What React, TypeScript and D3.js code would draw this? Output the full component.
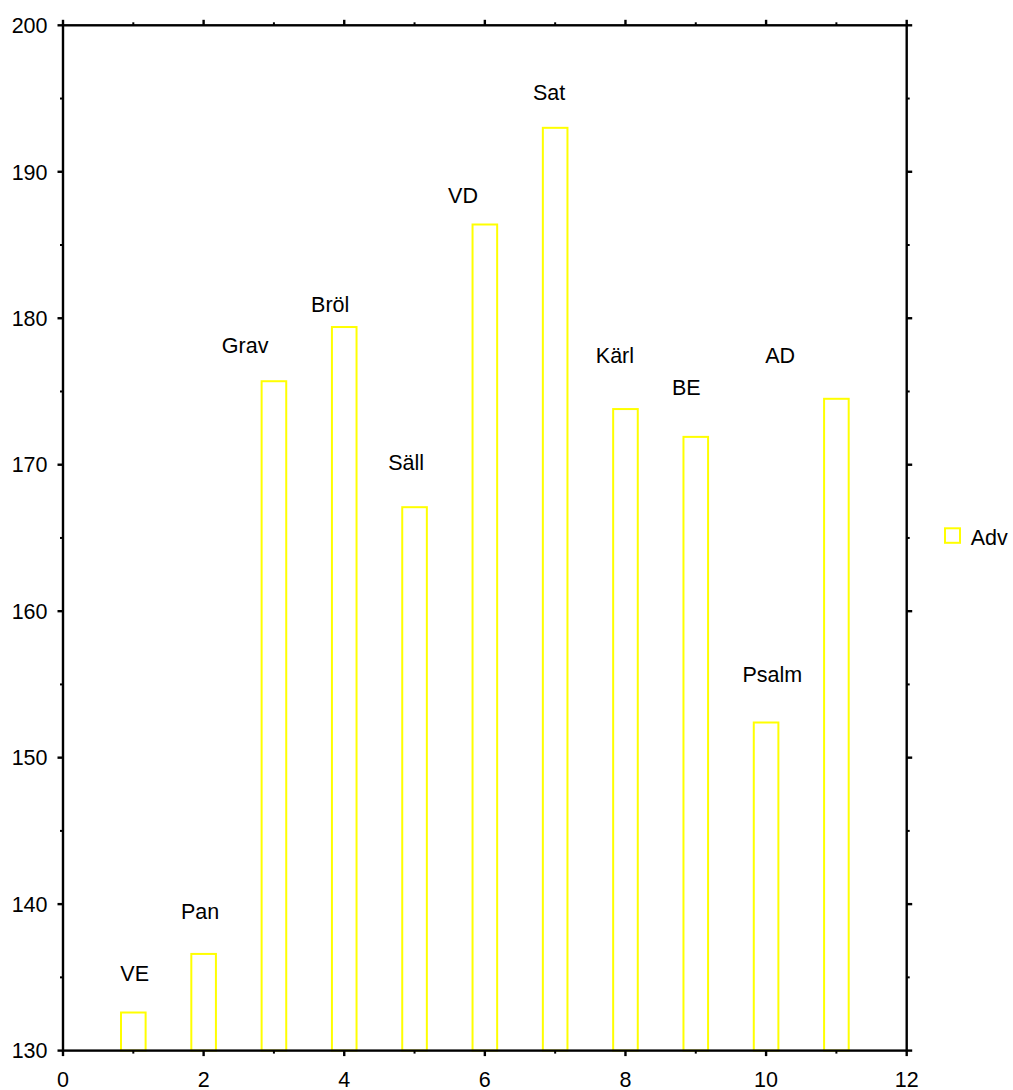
import React from "react";
import * as d3 from "d3";

const categories = ["VE", "Pan", "Grav", "Bröl", "Säll", "VD", "Sat", "Kärl", "BE", "Psalm", "AD"];
const xPositions = [1, 2, 3, 4, 5, 6, 7, 8, 9, 10, 11];
const advValues = [132.6, 136.6, 175.7, 179.4, 167.1, 186.4, 193.0, 173.8, 171.9, 152.4, 174.5];
// label anchor points (data coordinates) as they appear in the chart
const labelX = [1.02, 1.95, 2.59, 3.8, 4.88, 5.69, 6.915, 7.85, 8.865, 10.09, 10.2];
const labelY = [134.77, 138.96, 177.66, 180.4, 169.65, 187.87, 194.88, 176.94, 174.77, 155.19, 176.94];
const xTicks = [0, 2, 4, 6, 8, 10, 12];
const xMinorTicks = [1, 3, 5, 7, 9, 11];
const yTicks = [130, 140, 150, 160, 170, 180, 190, 200];
const yMinorTicks = [135, 145, 155, 165, 175, 185, 195];
const seriesName = "Adv";

const W = 1013;
const H = 1090;
const M = { left: 63, right: 906.7, top: 25.3, bottom: 1050.6 };
const FONT = "'Liberation Sans', Arial, Helvetica, sans-serif";
const FS = 21.5;
const YELLOW = "#ffff00";

export default function App() {
  const x = d3.scaleLinear().domain([0, 12]).range([M.left, M.right]);
  const y = d3.scaleLinear().domain([130, 200]).range([M.bottom, M.top]);
  const barW = x(0.35) - x(0);
  const axisW = 2.4;
  const majorLen = 5.5;
  const minorLen = 3;

  return (
    <svg
      width={W}
      height={H}
      style={{ position: "absolute", left: 0, top: 0, background: "#fff" }}
      fontFamily={FONT}
    >
      <rect x={0} y={0} width={W} height={H} fill="#fff" />
      {/* bars */}
      {xPositions.map((xv, i) => (
        <rect
          key={"b" + i}
          x={x(xv) - barW / 2}
          y={y(advValues[i])}
          width={barW}
          height={y(130) - y(advValues[i])}
          fill="none"
          stroke={YELLOW}
          strokeWidth={2}
        />
      ))}
      {/* frame */}
      <rect
        x={M.left}
        y={M.top}
        width={M.right - M.left}
        height={M.bottom - M.top}
        fill="none"
        stroke="#000"
        strokeWidth={axisW}
      />
      {/* x ticks bottom & top */}
      {xTicks.map((t) => (
        <g key={"xt" + t}>
          <line x1={x(t)} x2={x(t)} y1={M.bottom} y2={M.bottom + majorLen} stroke="#000" strokeWidth={axisW} />
          <line x1={x(t)} x2={x(t)} y1={M.top} y2={M.top - majorLen} stroke="#000" strokeWidth={axisW} />
          <text x={x(t)} y={1086.5} textAnchor="middle" fontSize={FS} fill="#000">
            {t}
          </text>
        </g>
      ))}
      {xMinorTicks.map((t) => (
        <g key={"xm" + t}>
          <line x1={x(t)} x2={x(t)} y1={M.bottom} y2={M.bottom + minorLen} stroke="#000" strokeWidth={2} />
          <line x1={x(t)} x2={x(t)} y1={M.top} y2={M.top - minorLen} stroke="#000" strokeWidth={2} />
        </g>
      ))}
      {/* y ticks left & right */}
      {yTicks.map((t) => (
        <g key={"yt" + t}>
          <line x1={M.left} x2={M.left - majorLen} y1={y(t)} y2={y(t)} stroke="#000" strokeWidth={axisW} />
          <line x1={M.right} x2={M.right + majorLen} y1={y(t)} y2={y(t)} stroke="#000" strokeWidth={axisW} />
          <text x={47.5} y={y(t)} dy="0.36em" textAnchor="end" fontSize={FS} fill="#000">
            {t}
          </text>
        </g>
      ))}
      {yMinorTicks.map((t) => (
        <g key={"ym" + t}>
          <line x1={M.left} x2={M.left - minorLen} y1={y(t)} y2={y(t)} stroke="#000" strokeWidth={2} />
          <line x1={M.right} x2={M.right + minorLen} y1={y(t)} y2={y(t)} stroke="#000" strokeWidth={2} />
        </g>
      ))}
      {/* category labels */}
      {categories.map((c, i) => (
        <text
          key={"l" + i}
          x={x(labelX[i])}
          y={y(labelY[i])}
          textAnchor="middle"
          fontSize={FS}
          fill="#000"
        >
          {c}
        </text>
      ))}
      {/* legend */}
      <rect x={945} y={528.3} width={15} height={14.5} fill="none" stroke={YELLOW} strokeWidth={2} />
      <text x={970.7} y={545} fontSize={FS} fill="#000">
        {seriesName}
      </text>
    </svg>
  );
}
